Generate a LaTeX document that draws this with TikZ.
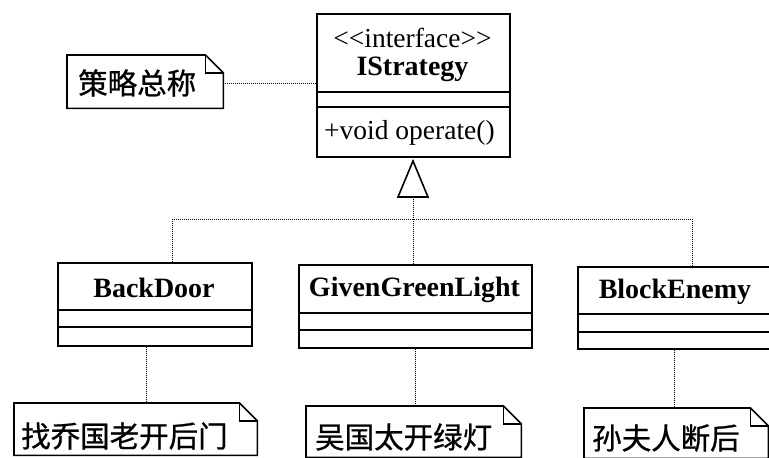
\documentclass[tikz,border=0pt]{standalone}
\usepackage{fontspec}
\setmainfont{Liberation Serif}
\newfontfamily\cjk{Noto Sans CJK SC}[FakeBold=0.8]
\newcommand\drawnote[1]{%
  \draw[notel] (#1.north west) -- ([xshift=-18pt]#1.north east) -- ([yshift=-18pt]#1.north east) -- (#1.south east) -- (#1.south west) -- cycle;
  \draw[notel] ([xshift=-18pt]#1.north east) |- ([yshift=-18pt]#1.north east);}
\begin{document}
\begin{tikzpicture}[x=1pt,y=-1pt,
  box/.style={draw, line width=1.6pt, inner sep=0pt, anchor=north west},
  sep/.style={line width=1.6pt},
  notel/.style={line width=1.6pt, line join=miter},
  notebox/.style={inner sep=0pt, anchor=north west},
  lbl/.style={font=\fontsize{27.5}{29}\selectfont, inner sep=0pt},
  blbl/.style={font=\fontsize{28}{30}\selectfont\bfseries, inner sep=0pt},
  cn/.style={font=\cjk\fontsize{29.5}{31}\selectfont, inner sep=0pt, anchor=west},
  dep/.style={line width=1pt, dash pattern=on 1pt off 1pt},
  realiz/.style={line width=1.6pt, fill=white, line join=miter}]
\fill[white] (0,0) rectangle (769,458);
\useasboundingbox (0,0) rectangle (769,458);

% interface
\node[box, minimum width=193pt, minimum height=143pt] (istr) at (316,13) {};
\draw[sep] (316,92) -- (509,92);
\draw[sep] (316,107) -- (509,107);
\node[lbl] (istrst) at (412.5,38) {<\kern0pt<interface>\kern0pt>};
\node[blbl] (istrnm) at (412.5,69) {IStrategy};
\node[lbl, anchor=west] (istrop) at (324,133) {+void operate()};

% note for interface
\node[notebox, minimum width=156pt, minimum height=53pt] (n0) at (67,55) {};
\drawnote{n0}
\node[cn] (n0t) at (78,83) {策略总称};
\draw[dep] (n0.east |- 0,83) -- (istr.west |- 0,83);

% classes
\node[box, minimum width=194pt, minimum height=83pt] (bd) at (57,262) {};
\draw[sep] (57,310) -- (251,310);
\draw[sep] (57,327) -- (251,327);
\node[blbl] (bdt) at (154,288) {BackDoor};

\node[box, minimum width=233pt, minimum height=83pt] (gg) at (298,264) {};
\draw[sep] (298,313) -- (531,313);
\draw[sep] (298,330) -- (531,330);
\node[blbl] (ggt) at (414.5,290) {GivenGreenLight};

\node[box, minimum width=196pt, minimum height=82pt] (be) at (577,266) {};
\draw[sep] (577,314) -- (773,314);
\draw[sep] (577,332) -- (773,332);
\node[blbl] (bet) at (675,292) {BlockEnemy};

% realization
\coordinate (tri) at (413,197);
\coordinate (apex) at (413,161);
\coordinate (jn) at (413,219);
\coordinate (xbd) at (172,0);
\coordinate (xbe) at (692,0);
\draw[dep] (tri) -- (jn);
\draw[dep] (xbd |- jn) -- (xbe |- jn);
\draw[dep] (xbd |- jn) -- (xbd |- bd.north);
\draw[dep] (jn) -- (jn |- gg.north);
\draw[dep] (xbe |- jn) -- (xbe |- be.north);
\draw[realiz] ([xshift=-15pt]tri) -- (apex) -- ([xshift=15pt]tri) -- cycle;

% notes
\node[notebox, minimum width=243pt, minimum height=52pt] (n1) at (14,403) {};
\drawnote{n1}
\node[cn] (n1t) at (21,436) {找乔国老开后门};
\node[notebox, minimum width=215pt, minimum height=51pt] (n2) at (306,406) {};
\drawnote{n2}
\node[cn] (n2t) at (315,437) {吴国太开绿灯};
\node[notebox, minimum width=184pt, minimum height=50pt] (n3) at (584,408) {};
\drawnote{n3}
\node[cn] (n3t) at (592,438) {孙夫人断后};

\coordinate (x1) at (146,0);
\coordinate (x2) at (415,0);
\coordinate (x3) at (674,0);
\draw[dep] (x1 |- bd.south) -- (x1 |- n1.north);
\draw[dep] (x2 |- gg.south) -- (x2 |- n2.north);
\draw[dep] (x3 |- be.south) -- (x3 |- n3.north);
\end{tikzpicture}
\end{document}
